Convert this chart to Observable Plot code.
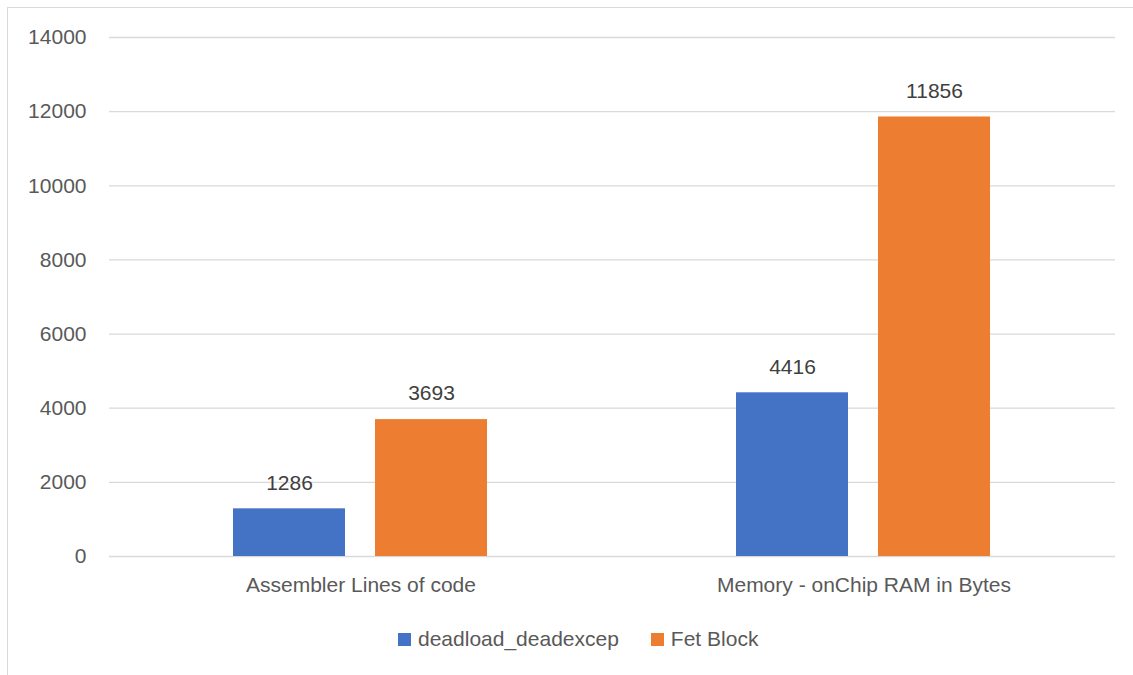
<!DOCTYPE html>
<html>
<head>
<meta charset="utf-8">
<script src="https://cdn.jsdelivr.net/npm/d3@7"></script>
<script src="https://cdn.jsdelivr.net/npm/@observablehq/plot@0.6"></script>
<style>
  html, body { margin: 0; padding: 0; background: #fff; overflow: hidden; }
  #wrap { position: relative; width: 1133px; height: 675px; font-family: "Liberation Sans", Arial, sans-serif; }
  #frame { position: absolute; left: 7px; top: 7px; width: 1300px; height: 800px; border-top: 1.5px solid #d9d9d9; border-left: 1.5px solid #d9d9d9; }
  #chart { position: absolute; left: 0; top: 0; }
  #legend { position: absolute; left: 398px; top: 627px; display: flex; align-items: center; font-size: 21px; color: #595959; }
  .item { display: flex; align-items: center; margin-right: 32px; }
  .sw { width: 13px; height: 13px; margin-right: 7px; }
</style>
</head>
<body>
<div id="wrap">
  <div id="frame"></div>
  <div id="chart"></div>
  <div id="legend"></div>
</div>
<script>
const categories = ["Assembler Lines of code", "Memory - onChip RAM in Bytes"];
const seriesNames = ["deadload_deadexcep", "Fet Block"];
const deadloadValues = [1286, 4416];
const fetBlockValues = [3693, 11856];
const seriesColors = ["#4472C4", "#ED7D31"];
const yTicks = [0, 2000, 4000, 6000, 8000, 10000, 12000, 14000];

const data = categories.flatMap((c, i) => [
  {category: c, series: seriesNames[0], value: deadloadValues[i]},
  {category: c, series: seriesNames[1], value: fetBlockValues[i]}
]);

const chart = Plot.plot({
  width: 1133,
  height: 620,
  marginTop: 37,
  marginBottom: 64,
  marginLeft: 108,
  marginRight: 18,
  style: {fontFamily: "'Liberation Sans', Arial, sans-serif", fontSize: "21px", color: "#595959", background: "transparent", overflow: "visible"},
  fx: {domain: categories, padding: 0, label: null, tickSize: 0, tickPadding: 21, axis: "bottom"},
  x: {domain: seriesNames, paddingInner: 0.21, paddingOuter: 0.866, axis: null},
  y: {domain: [0, 14000], ticks: yTicks, tickSize: 0, tickPadding: 23, label: null, tickFormat: d => String(d)},
  color: {domain: seriesNames, range: seriesColors},
  marks: [
    Plot.gridY(yTicks, {stroke: "#d9d9d9", strokeOpacity: 1, strokeWidth: 1.3}),
    Plot.barY(data, {fx: "category", x: "series", y: "value", fill: "series"}),
    Plot.text(data, {fx: "category", x: "series", y: "value", text: d => String(d.value), dy: -26, fill: "#404040", fontSize: 21})
  ]
});
document.getElementById("chart").appendChild(chart);

const legend = document.getElementById("legend");
seriesNames.forEach((s, i) => {
  const item = document.createElement("div");
  item.className = "item";
  const sw = document.createElement("span");
  sw.className = "sw";
  sw.style.background = seriesColors[i];
  const t = document.createElement("span");
  t.textContent = s;
  item.appendChild(sw);
  item.appendChild(t);
  legend.appendChild(item);
});
</script>
</body>
</html>
